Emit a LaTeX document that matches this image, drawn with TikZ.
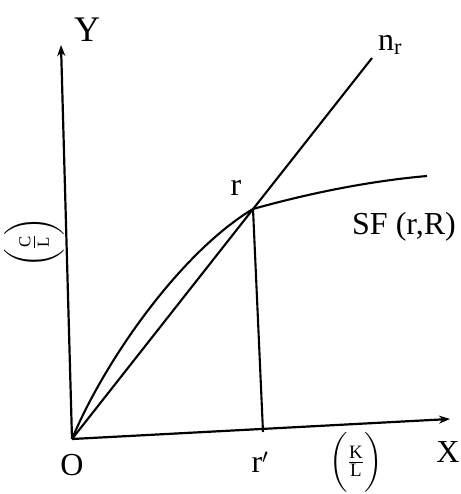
\documentclass[tikz,border=0pt]{standalone}
\usepackage{amsmath}
\usepackage{fontspec}
\setmainfont{Liberation Serif}
\usetikzlibrary{calc,arrows.meta}

\tikzset{
    axis/.style={line width=2.2pt, -{Stealth[length=11pt,width=8pt]}},
    curveline/.style={line width=2.1pt},
    lbl/.style={font=\fontsize{32}{34}\selectfont, inner sep=0pt}
}
% ratio label with tall brackets
\newcommand{\ratiolbl}[2]{$\biggl(\frac{\text{#1}}{\text{#2}}\biggr)$}

\begin{document}
\begin{tikzpicture}[x=1pt, y=-1pt]
    \useasboundingbox (0,0) rectangle (460,494);

    % Axes
    \coordinate (O) at (72,439);
    \coordinate (Ytip) at (61,45);
    \coordinate (Xtip) at (450,419);
    \draw[axis] (O) -- (Ytip);
    \draw[axis] (O) -- (Xtip);

    % Ray n_r through r
    \coordinate (r) at (253,209);
    \coordinate (N) at (372,58);
    \draw[curveline] (O) -- (N);

    % The curve SF(r,R)
    \coordinate (E) at (427,176);
    \draw[curveline] (O) .. controls (105,360) and (181,252) .. (r)
                         .. controls (310,193) and (370,181) .. (E);

    % Drop from r to the X axis
    \coordinate (rp) at (263,432);
    \draw[curveline] (r) -- (rp);

    % Labels
    \node[lbl, font=\fontsize{36}{38}\selectfont] (labY) at (87,30) {Y};
    \node[lbl] (labX)  at (448,452) {X};
    \node[lbl] (labO)  at (72,465)  {O};
    \node[lbl] (labN)  at (390,45)  {n$_{\text{r}}$};
    \node[lbl] (labr)  at (236,188) {r};
    \node[lbl] (labrp) at (260,462) {r$'$};
    \node[lbl] (labSF) at (404,227) {SF (r,R)};
    \node[lbl, font=\fontsize{24}{26}\selectfont, rotate=90] (labCL) at (34,242) {\ratiolbl{C}{L}};
    \node[lbl, font=\fontsize{27}{29}\selectfont] (labKL) at (356,462) {\ratiolbl{K}{L}};
\end{tikzpicture}
\end{document}
